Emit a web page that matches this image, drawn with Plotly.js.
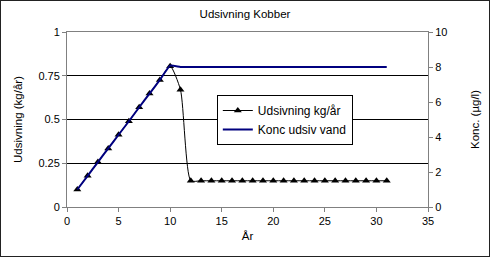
<!DOCTYPE html>
<html><head><meta charset="utf-8">
<script src="https://cdn.plot.ly/plotly-3.0.1.min.js"></script>
<style>
html,body{margin:0;padding:0;background:#fff;}
#frame{position:absolute;left:0;top:0;width:488px;height:255px;border:1px solid #222;}
#chart{position:absolute;left:0;top:0;width:490px;height:257px;}
</style></head>
<body>
<div id="chart"></div>
<div id="frame"></div>
<script>
const years = [1,2,3,4,5,6,7,8,9,10,11,12,13,14,15,16,17,18,19,20,21,22,23,24,25,26,27,28,29,30,31];
const udsivning = [0.1,0.178,0.257,0.335,0.413,0.49,0.57,0.648,0.726,0.805,0.67,0.15,0.15,0.15,0.15,0.15,0.15,0.15,0.15,0.15,0.15,0.15,0.15,0.15,0.15,0.15,0.15,0.15,0.15,0.15,0.15];
const konc = [1.0,1.78,2.57,3.35,4.13,4.9,5.7,6.48,7.26,8.08,8.0,8.0,8.0,8.0,8.0,8.0,8.0,8.0,8.0,8.0,8.0,8.0,8.0,8.0,8.0,8.0,8.0,8.0,8.0,8.0,8.0];

const fam = '"Liberation Sans", Arial, sans-serif';
const font = {family:fam, size:11, color:'#000'};
const traces = [
  {x:years, y:udsivning, name:'Udsivning kg/år', type:'scatter', mode:'lines+markers',
   line:{color:'#000', width:1, shape:'spline', smoothing:0.6},
   marker:{symbol:'triangle-up', size:7, color:'#000'}, yaxis:'y'},
  {x:years, y:konc, name:'Konc udsiv vand', type:'scatter', mode:'lines',
   line:{color:'#00007f', width:2, shape:'spline', smoothing:0.4}, yaxis:'y2'}
];
const layout = {
  width:490, height:257,
  margin:{l:67, r:62, t:32, b:50},
  paper_bgcolor:'#fff', plot_bgcolor:'#fff',
  font:font,
  showlegend:true,
  title:{text:'Udsivning Kobber', font:{family:fam, size:11.5, color:'#000'}, x:0.5, xanchor:'center', y:0.945, yanchor:'middle'},
  xaxis:{range:[0,35], tickvals:[0,5,10,15,20,25,30,35], showgrid:false, zeroline:false,
    showline:true, mirror:true, linecolor:'#808080', linewidth:1, ticks:'outside', ticklen:4, tickcolor:'#808080',
    title:{text:'År', font:{family:fam, size:11.5, color:'#000'}, standoff:5}},
  yaxis:{range:[0,1], tickvals:[0,0.25,0.5,0.75,1], ticktext:['0','0.25','0.5','0.75','1'],
    showgrid:true, gridcolor:'#000', gridwidth:1, zeroline:false,
    showline:true, linecolor:'#808080', linewidth:1, ticks:'outside', ticklen:4, tickcolor:'#808080',
    title:{text:'Udsivning (kg/år)', font:{family:fam, size:11.5, color:'#000'}, standoff:13}},
  yaxis2:{range:[0,10], tickvals:[0,2,4,6,8,10], overlaying:'y', side:'right', showgrid:false, zeroline:false,
    showline:true, linecolor:'#808080', linewidth:1, ticks:'outside', ticklen:4, tickcolor:'#808080',
    title:{text:'Konc. (µg/l)', font:{family:fam, size:11.5, color:'#000'}, standoff:24}},
  legend:{x:0.415, y:0.64, xanchor:'left', yanchor:'top', bgcolor:'#fff', bordercolor:'#000', borderwidth:1,
    font:{family:fam, size:12, color:'#000'}, tracegroupgap:0, itemwidth:30}
};
Plotly.newPlot('chart', traces, layout, {displayModeBar:false, staticPlot:true});
</script>
</body></html>
